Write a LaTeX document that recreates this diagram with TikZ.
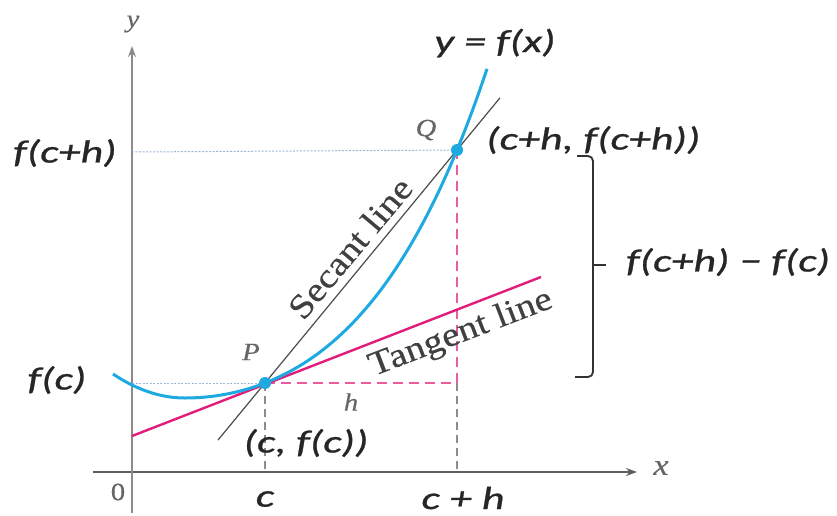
\documentclass[tikz,border=0pt]{standalone}
\usepackage{fontspec}
\usetikzlibrary{arrows.meta,calc}
\newfontfamily\calfont[FakeStretch=1.38,FakeBold=0.8]{Carlito}
\newfontfamily\serfont[FakeStretch=1.15,FakeBold=0.4]{Liberation Serif}
\definecolor{curveblue}{RGB}{30,170,225}
\definecolor{tanpink}{RGB}{226,28,122}
\definecolor{dashpink}{RGB}{234,92,162}
\definecolor{guideblue}{RGB}{155,182,215}
\definecolor{axisgray}{RGB}{95,95,95}

\begin{document}
\begin{tikzpicture}[x=1pt,y=-1pt,
  lbl/.style={font=\calfont\itshape\fontsize{32}{32}\selectfont, text=black!85, inner sep=0pt},
  serlbl/.style={font=\serfont\itshape\fontsize{25}{25}\selectfont, text=black!60, inner sep=0pt},
  linelbl/.style={font=\serfont\fontsize{34}{34}\selectfont, text=black!75, inner sep=0pt},
  axis/.style={axisgray, line width=1.8pt, -{Stealth[length=11pt,width=8pt]}},
  guide/.style={guideblue, line width=1pt, dash pattern=on 2pt off 1.5pt},
  pinkdash/.style={dashpink, line width=2pt, dash pattern=on 10pt off 6pt},
  graydash/.style={black!45, line width=1.5pt, dash pattern=on 8pt off 5pt},
  dot/.style={circle, fill=curveblue, inner sep=0pt, minimum size=12pt}]
  \useasboundingbox (0,0) rectangle (837,516);

  % points
  \coordinate (P) at (265,383);
  \coordinate (Q) at (457,150);
  \coordinate (R) at (457,383);
  \coordinate (cx) at (265,472);
  \coordinate (chx) at (457,472);
  \coordinate (fcy) at (132,383);
  \coordinate (fchy) at (132,152);
  \coordinate (xl) at (93,472);
  \coordinate (xr) at (637,472);
  \coordinate (yb) at (132,513);
  \coordinate (yt) at (132,46);
  \coordinate (T1) at (132,436);
  \coordinate (T2) at (541,277);

  % axes
  \draw[axis] (xl) -- (xr);
  \draw[axis, black!45, line width=1.5pt] (yb) -- (yt);

  % guides
  \draw[guide] (fchy) -- (Q);
  \draw[guide] (fcy) -- (P);
  \draw[graydash] (P) -- (cx);
  \draw[graydash] (R) -- (chx);
  \draw[pinkdash] (P) -- (R) -- (Q);

  % lines and curve (u = (x-185)/100)
  \draw[tanpink, line width=2.4pt] (T1) -- (T2);
  \draw[black!70, line width=1.2pt] ($(P)!-0.245!(Q)$) -- ($(P)!1.224!(Q)$);
  \draw[curveblue, line width=3pt]
    plot[domain=113:185, samples=30] (\x, {398-46.3*((\x-185)/100)^2})
    -- plot[domain=185:487, samples=80] (\x, {398-22.483*((\x-185)/100)^2-1.492*((\x-185)/100)^4});
  \node[dot] (Pd) at (P) {};
  \node[dot] (Qd) at (Q) {};

  % brace
  \draw[black!80, line width=1.8pt, rounded corners=5pt] (577,156) -- (593,156) -- (593,377) -- (575,377);
  \draw[black!80, line width=1.8pt] (593,265) -- (606,265);

  % labels
  \node[lbl] (fchl) at (65,153) {f(c+h)};
  \node[lbl] (fcl) at (57,380) {f(c)};
  \node[lbl] (cl) at (265,499) {c};
  \node[lbl] (chl) at (463,498) {c + h};
  \node[lbl] (yfx) at (495,43) {y = f(x)};
  \node[lbl, anchor=west] (Ql) at (486,140) {(c+h, f(c+h))};
  \node[lbl] (Pl) at (306,443) {(c, f(c))};
  \node[lbl, anchor=west] (diff) at (626,262) {f(c+h) − f(c)};

  \node[serlbl] (ylab) at (133,24) {y};
  \node[serlbl, font=\serfont\itshape\fontsize{30}{30}\selectfont] (xlab) at (661,468) {x};
  \node[serlbl, font=\serfont\fontsize{25}{25}\selectfont] (zero) at (118,492) {0};
  \node[serlbl] (Plab) at (251,352) {P};
  \node[serlbl] (Qlab) at (426,130) {Q};
  \node[serlbl] (hlab) at (351,402) {h};

  \node[linelbl, rotate=50] (sec) at (350,248) {Secant line};
  \node[linelbl, rotate=21] (tan) at (461,334) {Tangent line};
\end{tikzpicture}
\end{document}
